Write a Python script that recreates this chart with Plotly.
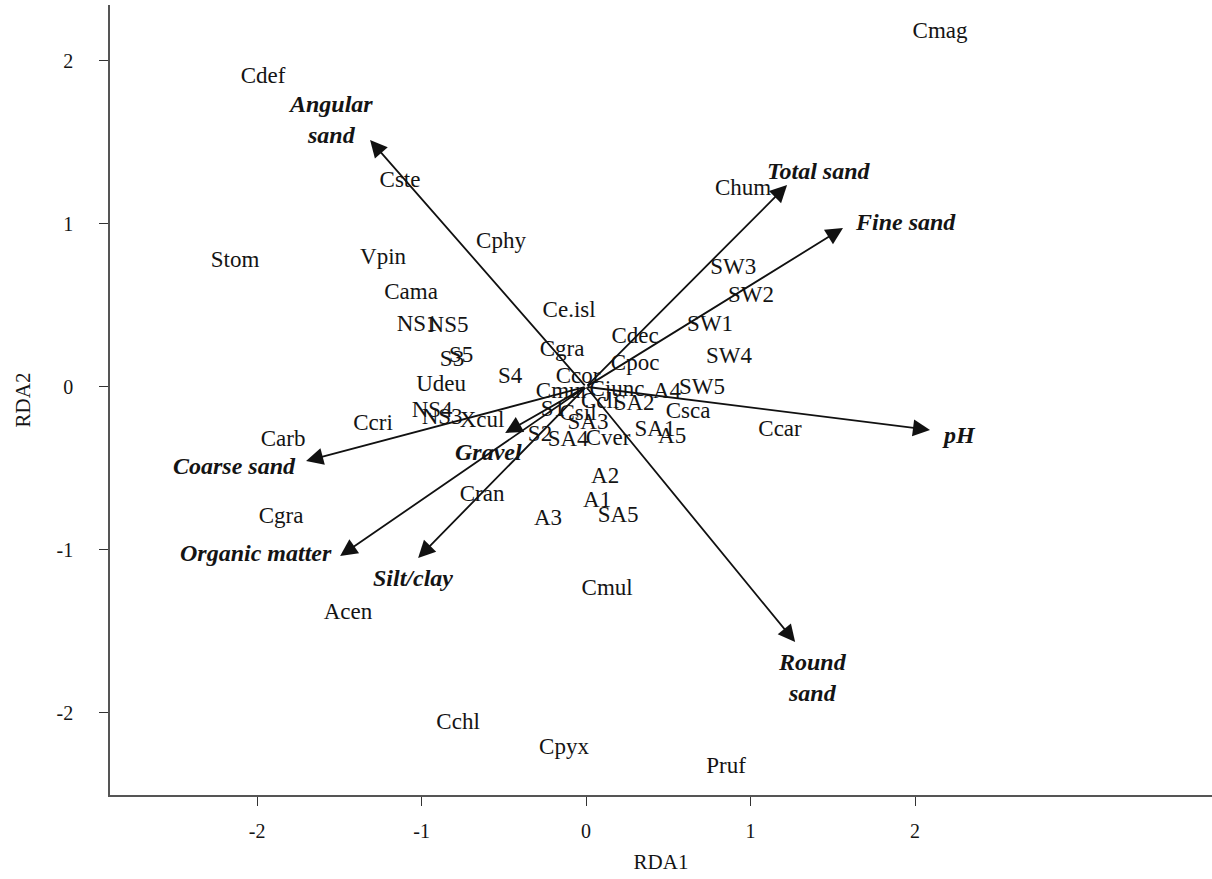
import plotly.graph_objects as go

# ---- data ----
site_labels = ["Cmag", "Cdef", "Cste", "Cphy", "Stom", "Vpin", "Cama", "NS1", "NS5",
               "S3", "S5", "Udeu", "NS4", "NS3", "Xcul", "Ccri", "Carb", "Cgra", "Cran",
               "Acen", "Cchl", "Cpyx", "Pruf", "Cmul", "A3", "A1", "A2", "SA5", "S4",
               "Ce.isl", "Cgra", "Cdec", "Cpoc", "Ccor", "Cmur", "Cjunc", "Ccli", "SA2",
               "A4", "SW5", "Csca", "Ccar", "SA1", "A5", "S1", "Csil", "SA3", "S2", "SA4",
               "Cver", "Chum", "SW3", "SW2", "SW1", "SW4"]
site_x = [2.152, -1.964, -1.131, -0.517, -2.134, -1.234, -1.064, -1.027, -0.839,
          -0.815, -0.760, -0.881, -0.936, -0.875, -0.632, -1.295, -1.842, -1.854, -0.632,
          -1.447, -0.778, -0.134, 0.851, 0.128, -0.231, 0.067, 0.116, 0.195, -0.462,
          -0.103, -0.146, 0.298, 0.298, -0.049, -0.146, 0.188, 0.085, 0.292,
          0.492, 0.705, 0.620, 1.179, 0.419, 0.523, -0.201, -0.049, 0.012, -0.280, -0.109,
          0.134, 0.954, 0.894, 1.003, 0.754, 0.869]
site_y = [2.177, 1.900, 1.263, 0.888, 0.772, 0.791, 0.575, 0.379, 0.373,
          0.164, 0.189, 0.011, -0.149, -0.192, -0.210, -0.228, -0.327, -0.802, -0.664,
          -1.388, -2.063, -2.216, -2.333, -1.241, -0.812, -0.701, -0.554, -0.796, 0.060,
          0.465, 0.226, 0.306, 0.140, 0.060, -0.032, -0.020, -0.093, -0.106,
          -0.032, -0.007, -0.155, -0.265, -0.265, -0.308, -0.142, -0.167, -0.223, -0.296, -0.327,
          -0.321, 1.214, 0.729, 0.557, 0.379, 0.183]

env_labels = ["Angular<br>sand", "Total sand", "Fine sand", "pH", "Round<br>sand",
              "Silt/clay", "Organic matter", "Coarse sand", "Gravel"]
env_x = [-1.313, 1.222, 1.562, 2.091, 1.271, -1.021, -1.495, -1.702, -0.492]
env_y = [1.514, 1.238, 0.974, -0.265, -1.566, -1.050, -1.038, -0.455, -0.283]

tick_vals = [-2, -1, 0, 1, 2]
tick_text = ["-2", "-1", "0", "1", "2"]

# ---- style ----
FONT = "Liberation Serif"
TXT = "#141414"
# pixel offsets of the environmental labels from the arrow tips
env_shift = [(-40, 20), (31, 14), (62, 6), (29, -5), (17, -35),
             (-5, -20), (-84, 3), (-72, -5), (-17, -19)]

fig = go.Figure()
fig.add_trace(go.Scatter(
    x=site_x, y=site_y, mode="text", text=site_labels,
    textposition="middle center",
    textfont=dict(family=FONT, size=23, color=TXT),
    hoverinfo="skip", showlegend=False))

annotations = []
for lab, ex, ey, (dx, dy) in zip(env_labels, env_x, env_y, env_shift):
    annotations.append(dict(
        x=ex, y=ey, ax=0, ay=0, xref="x", yref="y", axref="x", ayref="y",
        text="", showarrow=True, arrowhead=2, arrowsize=1.9, arrowwidth=1.8,
        arrowcolor="#111111", standoff=0))
    annotations.append(dict(
        x=ex, y=ey, xref="x", yref="y", text="<b><i>" + lab + "</i></b>",
        showarrow=False, xshift=dx, yshift=dy, align="center",
        font=dict(family=FONT, size=24, color=TXT)))

fig.update_layout(
    width=1212, height=879,
    margin=dict(l=110, r=0, t=5, b=84),
    paper_bgcolor="white", plot_bgcolor="white",
    annotations=annotations,
    xaxis=dict(range=[-2.894, 3.805], tickvals=tick_vals, ticktext=tick_text,
               showgrid=False, zeroline=False, showline=True, linecolor="#555555",
               linewidth=1.5, ticks="outside", ticklen=9, tickwidth=1.2,
               tickcolor="#333333", ticklabelstandoff=8,
               tickfont=dict(family=FONT, size=20, color=TXT),
               title=dict(text="RDA1", font=dict(family=FONT, size=21, color=TXT),
                          standoff=14)),
    yaxis=dict(range=[-2.504, 2.342], tickvals=tick_vals, ticktext=tick_text,
               showgrid=False, zeroline=False, showline=True, linecolor="#555555",
               linewidth=1.5, ticks="outside", ticklen=9, tickwidth=1.2,
               tickcolor="#333333", ticklabelstandoff=22,
               tickfont=dict(family=FONT, size=20, color=TXT),
               title=dict(text="RDA2", font=dict(family=FONT, size=21, color=TXT),
                          standoff=20)),
)

fig.write_html("out.html")
